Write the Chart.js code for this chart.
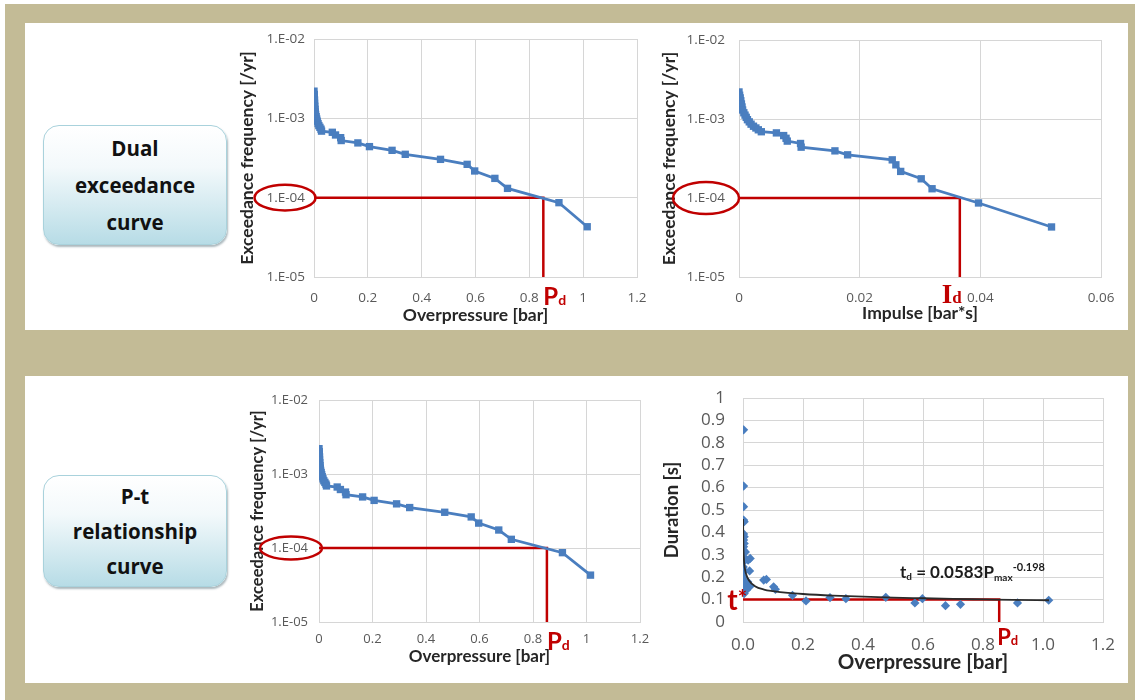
<!DOCTYPE html>
<html><head><meta charset="utf-8">
<script src="https://cdn.jsdelivr.net/npm/chart.js@4.4.1/dist/chart.umd.min.js"></script>
<style>
html,body{margin:0;padding:0;background:#fff;}
body{width:1135px;height:700px;position:relative;overflow:hidden;font-family:Lato,sans-serif;}
.tan{position:absolute;left:5px;top:4px;width:1130px;height:696px;background:#c3bb96;}
.panel{position:absolute;left:25px;width:1103px;background:#fff;}
.lbl{position:absolute;left:43px;width:184px;box-sizing:border-box;border-radius:16px;
 background:linear-gradient(#ffffff 0%,#f3f9fb 35%,#b7dce6 100%);border:1px solid #a9d2dc;
 box-shadow:1px 2px 2px rgba(70,100,110,0.45);display:flex;flex-direction:column;justify-content:center;
 align-items:center;font:bold 20.5px "Open Sans";line-height:37px;color:#111;}
canvas{position:absolute;}
</style></head>
<body>
<div class="tan"></div>
<div class="panel" style="top:23px;height:307px"></div>
<div class="panel" style="top:376px;height:307px"></div>
<div class="lbl" style="top:125px;height:120px"><div>Dual</div><div>exceedance</div><div>curve</div></div>
<div class="lbl" style="top:475px;height:112px;line-height:35px"><div>P-t</div><div>relationship</div><div>curve</div></div>
<canvas id="c1"></canvas>
<canvas id="c2"></canvas>
<canvas id="c3"></canvas>
<canvas id="c4"></canvas>
<script>
// ---------------- DATA ----------------
const freqTicks = [1e-5, 1e-4, 1e-3, 1e-2];
const freqTickLabels = ['1.E-05', '1.E-04', '1.E-03', '1.E-02'];
const opTicks = [0, 0.2, 0.4, 0.6, 0.8, 1, 1.2];
const opTickLabels = ['0', '0.2', '0.4', '0.6', '0.8', '1', '1.2'];
const impTicks = [0, 0.02, 0.04, 0.06];
const impTickLabels = ['0', '0.02', '0.04', '0.06'];
const durTicks = [0, 0.1, 0.2, 0.3, 0.4, 0.5, 0.6, 0.7, 0.8, 0.9, 1];
const durTickLabels = ['0', '0.1', '0.2', '0.3', '0.4', '0.5', '0.6', '0.7', '0.8', '0.9', '1'];
const durXTickLabels = ['0.0', '0.2', '0.4', '0.6', '0.8', '1.0', '1.2'];

// exceedance frequency [/yr] (shared by overpressure and impulse curves)
const exceedFreq = [2.2e-3, 2.0e-3, 1.85e-3, 1.7e-3, 1.55e-3, 1.42e-3, 1.3e-3, 1.2e-3, 1.12e-3, 1.05e-3,
  9.8e-4, 9.2e-4, 8.6e-4, 8.1e-4, 7.7e-4, 7.3e-4, 6.9e-4,
  6.67e-4, 6.17e-4, 5.7e-4, 5.25e-4, 4.9e-4, 4.4e-4, 3.95e-4, 3.52e-4, 3.04e-4, 2.63e-4, 2.17e-4, 1.75e-4, 1.31e-4, 8.65e-5, 4.3e-5];
// overpressure [bar]
const overpressure = [0.000, 0.001, 0.001, 0.002, 0.002, 0.003, 0.004, 0.005, 0.006, 0.008,
  0.010, 0.012, 0.015, 0.018, 0.022, 0.026, 0.028,
  0.068, 0.080, 0.099, 0.101, 0.163, 0.206, 0.290, 0.339, 0.470, 0.569, 0.597, 0.672, 0.719, 0.910, 1.015];
// impulse [bar*s]
const impulse = [0.0000, 0.0001, 0.0002, 0.0003, 0.0004, 0.0005, 0.0006, 0.0008, 0.0010, 0.0012,
  0.0014, 0.0017, 0.0020, 0.0024, 0.0028, 0.0032, 0.0037,
  0.0062, 0.0074, 0.0078, 0.0080, 0.0102, 0.0103, 0.0159, 0.0180, 0.0254, 0.0260, 0.0268, 0.0302, 0.0320, 0.0397, 0.0518];

// duration scatter
const durP = [0.002, 0.002, 0.002, 0.002, 0.004, 0.002, 0.004, 0.002, 0.004, 0.002, 0.001, 0.008, 0.002, 0.024, 0.017,
  0.002, 0.001, 0.005, 0.022, 0.002, 0.001, 0.016, 0.002, 0.024, 0.011, 0.004,
  0.069, 0.078, 0.102, 0.108, 0.165, 0.210, 0.290, 0.343, 0.476, 0.573, 0.598, 0.675, 0.725, 0.915, 1.019];
const durT = [0.858, 0.607, 0.515, 0.455, 0.448, 0.393, 0.381, 0.366, 0.351, 0.336, 0.321, 0.313, 0.291, 0.284, 0.276,
  0.269, 0.246, 0.228, 0.228, 0.200, 0.187, 0.179, 0.164, 0.160, 0.142, 0.127,
  0.187, 0.190, 0.157, 0.146, 0.119, 0.094, 0.109, 0.104, 0.110, 0.085, 0.104, 0.073, 0.079, 0.085, 0.097];
// fitted trend line
const fitP = [0.0003, 0.001, 0.003, 0.006, 0.01, 0.02, 0.04, 0.07, 0.1, 0.15, 0.2, 0.3, 0.4, 0.5, 0.6, 0.7, 0.8, 0.9, 1.02];
const fitT = [0.46, 0.36, 0.28, 0.24, 0.215, 0.185, 0.16, 0.145, 0.138, 0.13, 0.125, 0.118, 0.113, 0.109, 0.106, 0.103, 0.101, 0.099, 0.097];

// design values
const designFreq = 1e-4;
const Pd = 0.852;
const Id = 0.0366;
const tStar = 0.1;
const PdDur = 0.854;

// ---------------- STYLE / HELPERS ----------------
const BLUE = '#4a7ebf', RED = '#c00000', GRID = '#d6d6d6', TICK = '#595959', TITLE = '#262626';
Chart.defaults.font.family = 'Lato';
Chart.defaults.animation = false;

const pts = (xs, ys) => xs.map((x, i) => ({x, y: ys[i]}));

function drawParts(ctx, parts, x, y, align) {
  let w = 0;
  parts.forEach(p => { ctx.font = p[1]; w += ctx.measureText(p[0]).width; });
  let cx = align === 'right' ? x - w : x;
  ctx.textAlign = 'left'; ctx.textBaseline = 'alphabetic';
  parts.forEach(p => { ctx.font = p[1]; ctx.fillText(p[0], cx, y + (p[2] || 0)); cx += ctx.measureText(p[0]).width; });
}

function fixedTicks(values) {
  return s => { s.ticks = values.map(v => ({value: v})); };
}
function zeroPad(s) { s.paddingLeft = 0; s.paddingRight = 0; s.paddingTop = 0; s.paddingBottom = 0; }

function makeChart(id, box, area, datasets, xs, ys, draw) {
  const cv = document.getElementById(id);
  cv.width = box.w; cv.height = box.h;
  cv.style.left = box.x + 'px'; cv.style.top = box.y + 'px';
  cv.style.width = box.w + 'px'; cv.style.height = box.h + 'px';
  xs.afterFit = s => { s.height = box.y + box.h - area.b; zeroPad(s); };
  ys.afterFit = s => { s.width = area.l - box.x; zeroPad(s); };
  return new Chart(cv, {
    type: 'scatter',
    data: {datasets},
    options: {
      responsive: false,
      devicePixelRatio: 1,
      layout: {padding: {top: area.t - box.y, right: box.x + box.w - area.r, left: 0, bottom: 0}},
      plugins: {legend: {display: false}, tooltip: {enabled: false}},
      scales: {x: xs, y: ys}
    },
    plugins: [{id: 'marks', afterDraw(chart) {
      const ctx = chart.ctx; ctx.save();
      draw(ctx, chart.chartArea, chart.scales.x, chart.scales.y);
      ctx.restore();
    }}]
  });
}

function gridOpts() { return {color: GRID, lineWidth: 1, drawTicks: false}; }

function freqAxis(fontSize, pad, titleSize) {
  return {
    type: 'logarithmic', min: 1e-5, max: 1e-2,
    afterBuildTicks: fixedTicks(freqTicks),
    ticks: {callback: (v, i) => freqTickLabels[i], color: TICK, padding: pad, font: {family: 'Open Sans', size: fontSize}},
    grid: gridOpts(), border: {color: GRID},
    title: {display: true, text: 'Exceedance frequency [/yr]', color: TITLE, font: {size: titleSize, weight: 'bold'}, padding: {top: 4, bottom: 0}}
  };
}
function linAxis(min, max, tv, tl, title, fontSize, pad, titleSize, titlePadB) {
  return {
    type: 'linear', min, max,
    afterBuildTicks: fixedTicks(tv),
    ticks: {callback: (v, i) => tl[i], color: TICK, padding: pad, maxRotation: 0, autoSkip: false, font: {family: 'Open Sans', size: fontSize}},
    grid: gridOpts(), border: {color: GRID},
    title: {display: true, text: title, color: TITLE, font: {size: titleSize, weight: 'bold'}, padding: {top: 0, bottom: titlePadB}}
  };
}

function curveDs(xs, ys) {
  return {data: pts(xs, ys), showLine: true, borderColor: BLUE, borderWidth: 2.8, pointStyle: 'rect',
    pointRadius: 5.2, pointBackgroundColor: BLUE, pointBorderWidth: 0, tension: 0};
}
function redDs(x0, xv, yv, ybot) {
  return {data: [{x: x0, y: yv}, {x: xv, y: yv}, {x: xv, y: ybot}], showLine: true, borderColor: RED,
    borderWidth: 2.5, pointRadius: 0, tension: 0, clip: false};
}

// ---------------- CHART 1: overpressure exceedance ----------------
makeChart('c1', {x: 233, y: 25, w: 416, h: 305}, {l: 314, t: 39, r: 637, b: 277},
  [curveDs(overpressure, exceedFreq), redDs(0, Pd, designFreq, 1e-5)],
  linAxis(0, 1.2, opTicks, opTickLabels, 'Overpressure [bar]', 13.5, 13, 17.5, 4),
  freqAxis(13.5, 9, 17.5),
  (ctx, a, x, y) => {
    ctx.strokeStyle = RED; ctx.lineWidth = 2.5;
    ctx.beginPath(); ctx.ellipse(a.left - 29, y.getPixelForValue(designFreq), 30.5, 12.8, 0, 0, Math.PI * 2); ctx.stroke();
    ctx.fillStyle = RED;
    drawParts(ctx, [['P', 'bold 24px Lato'], ['d', 'bold 14px Lato']], x.getPixelForValue(Pd), a.bottom + 28);
  });

// ---------------- CHART 2: impulse exceedance ----------------
makeChart('c2', {x: 655, y: 25, w: 470, h: 305}, {l: 739, t: 40, r: 1101, b: 277},
  [curveDs(impulse, exceedFreq), redDs(0, Id, designFreq, 1e-5)],
  linAxis(0, 0.06, impTicks, impTickLabels, 'Impulse [bar*s]', 13.5, 13, 17.5, 6),
  freqAxis(13.5, 14, 17.5),
  (ctx, a, x, y) => {
    ctx.strokeStyle = RED; ctx.lineWidth = 2.5;
    ctx.beginPath(); ctx.ellipse(a.left - 33, y.getPixelForValue(designFreq), 33, 16, 0, 0, Math.PI * 2); ctx.stroke();
    ctx.fillStyle = RED;
    drawParts(ctx, [['I', 'bold 27px "Liberation Serif"'], ['d', 'bold 17px "Liberation Serif"']], x.getPixelForValue(Id) + 2, a.bottom + 26, 'right');
  });

// ---------------- CHART 3: overpressure exceedance (P-t) ----------------
makeChart('c3', {x: 244, y: 380, w: 416, h: 292}, {l: 319, t: 400, r: 640, b: 622},
  [curveDs(overpressure, exceedFreq), redDs(0, Pd, designFreq, 1e-5)],
  linAxis(0, 1.2, opTicks, opTickLabels, 'Overpressure [bar]', 13, 9, 17, 5),
  freqAxis(13, 11, 16.5),
  (ctx, a, x, y) => {
    ctx.strokeStyle = RED; ctx.lineWidth = 2.5;
    ctx.beginPath(); ctx.ellipse(a.left - 28, y.getPixelForValue(designFreq), 31, 11.5, 0, 0, Math.PI * 2); ctx.stroke();
    ctx.fillStyle = RED;
    drawParts(ctx, [['P', 'bold 24px Lato'], ['d', 'bold 14px Lato']], x.getPixelForValue(Pd), a.bottom + 28);
  });

// ---------------- CHART 4: duration vs overpressure ----------------
makeChart('c4', {x: 658, y: 380, w: 467, h: 298}, {l: 743, t: 398, r: 1103, b: 622},
  [
    {data: pts(fitP, fitT), showLine: true, borderColor: '#2b2b2b', borderWidth: 1.8, pointRadius: 0, cubicInterpolationMode: 'monotone'},
    {data: pts(durP, durT), showLine: false, pointStyle: 'rectRot', pointRadius: 4.6, pointBackgroundColor: BLUE, pointBorderWidth: 0},
    redDs(0, PdDur, tStar, 0)
  ],
  linAxis(0, 1.2, opTicks, durXTickLabels, 'Overpressure [bar]', 17, 13, 20.5, 3),
  Object.assign(linAxis(0, 1, durTicks, durTickLabels, 'Duration [s]', 17, 18, 18.5, 0), {title: {display: true, text: 'Duration [s]', color: TITLE, font: {size: 18.5, weight: 'bold'}, padding: {top: 3, bottom: 0}}}),
  (ctx, a, x, y) => {
    ctx.fillStyle = RED;
    drawParts(ctx, [['t', 'bold 28px Lato'], ['*', 'bold 22px Lato', -4]], a.left + 4, y.getPixelForValue(tStar) + 10, 'right');
    drawParts(ctx, [['P', 'bold 22px Lato'], ['d', 'bold 13px Lato']], x.getPixelForValue(PdDur) - 2, a.bottom + 23);
    ctx.fillStyle = '#1c1c1c';
    drawParts(ctx, [['t', 'bold 17px Lato'], ['d', 'bold 10px Lato', 2], [' = 0.0583P', 'bold 17px Lato'], ['max', 'bold 10px Lato', 3], ['-0.198', 'bold 11px Lato', -7]],
      a.left + 157, y.getPixelForValue(0.2) + 1);
  });
</script>
</body></html>
